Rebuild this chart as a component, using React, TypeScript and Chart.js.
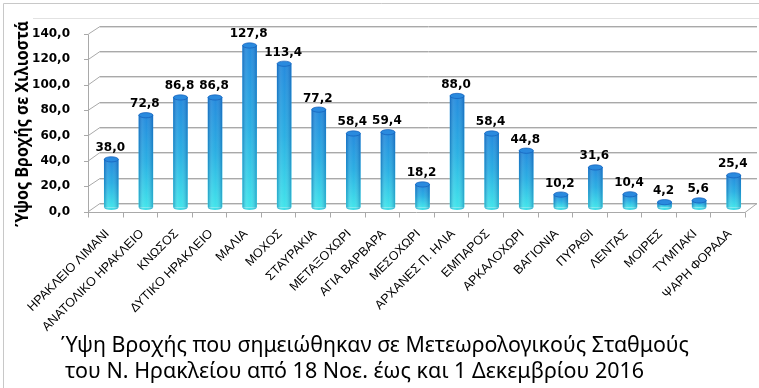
import React, { useEffect, useRef } from 'react';
import { Chart, registerables } from 'chart.js';

Chart.register(...registerables);

const stations = [
  'ΗΡΑΚΛΕΙΟ ΛΙΜΑΝΙ',
  'ΑΝΑΤΟΛΙΚΟ ΗΡΑΚΛΕΙΟ',
  'ΚΝΩΣΟΣ',
  'ΔΥΤΙΚΟ ΗΡΑΚΛΕΙΟ',
  'ΜΑΛΙΑ',
  'ΜΟΧΟΣ',
  'ΣΤΑΥΡΑΚΙΑ',
  'ΜΕΤΑΞΟΧΩΡΙ',
  'ΑΓΙΑ ΒΑΡΒΑΡΑ',
  'ΜΕΣΟΧΩΡΙ',
  'ΑΡΧΑΝΕΣ Π. ΗΛΙΑ',
  'ΕΜΠΑΡΟΣ',
  'ΑΡΚΑΛΟΧΩΡΙ',
  'ΒΑΓΙΟΝΙΑ',
  'ΠΥΡΑΘΙ',
  'ΛΕΝΤΑΣ',
  'ΜΟΙΡΕΣ',
  'ΤΥΜΠΑΚΙ',
  'ΨΑΡΗ ΦΟΡΑΔΑ',
];

const rainfall = [38.0, 72.8, 86.8, 86.8, 127.8, 113.4, 77.2, 58.4, 59.4, 18.2, 88.0, 58.4, 44.8, 10.2, 31.6, 10.4, 4.2, 5.6, 25.4];

const yMin = 0;
const yMax = 140;
const yStep = 20;

const yAxisTitle = 'Ύψος Βροχής σε Χιλιοστά';
const titleLines = [
  'Ύψη Βροχής που σημειώθηκαν σε Μετεωρολογικούς Σταθμούς',
  'του Ν. Ηρακλείου από 18 Νοε. έως και 1 Δεκεμβρίου 2016',
];

const fmt = (v: number) => Number(v).toFixed(1).replace('.', ',');

// 3D depth offsets relative to the bar plane
const FX = -6, FY = 4, BX = 6, BY = -4.5;

function line(ctx: CanvasRenderingContext2D, x1: number, y1: number, x2: number, y2: number) {
  ctx.beginPath();
  ctx.moveTo(x1, y1);
  ctx.lineTo(x2, y2);
  ctx.stroke();
}

function fitText(ctx: CanvasRenderingContext2D, text: string, x: number, y: number, width: number) {
  const w = ctx.measureText(text).width;
  ctx.save();
  ctx.translate(x, y);
  ctx.scale(width / w, 1);
  ctx.fillText(text, 0, 0);
  ctx.restore();
}

const threeDPlugin = {
  id: 'threeD',
  beforeDatasetsDraw(chart: any) {
    const { ctx, chartArea: a, scales } = chart;
    const x = scales.x, y = scales.y;
    ctx.save();
    ctx.lineWidth = 1;
    // outer frames
    ctx.strokeStyle = '#c8c8c8';
    ctx.beginPath();
    ctx.moveTo(3.5, 388);
    ctx.lineTo(3.5, 3.5);
    ctx.lineTo(759, 3.5);
    ctx.stroke();
    ctx.strokeStyle = '#e2e2e2';
    line(ctx, 33, 18.5, 759, 18.5);

    const left = a.left, right = a.right;
    y.ticks.forEach((t: any) => {
      const py = y.getPixelForValue(t.value);
      const by = Math.round(py + BY) + 0.5;
      ctx.strokeStyle = '#dcdcdc';
      line(ctx, left + BX, by + 1, right + BX, by + 1);
      ctx.strokeStyle = '#a9a9a9';
      line(ctx, left + BX, by, right + BX, by);
      line(ctx, left + FX + 0.5, py + FY, left + BX, by);
      line(ctx, left + FX - 4, Math.round(py + FY) + 0.5, left + FX + 0.5, Math.round(py + FY) + 0.5);
    });
    const fTop = Math.round(y.getPixelForValue(yMax) + FY) + 0.5;
    const fBot = Math.round(y.getPixelForValue(0) + FY) + 0.5;
    const bBot = Math.round(y.getPixelForValue(0) + BY) + 0.5;
    ctx.strokeStyle = '#a9a9a9';
    line(ctx, left + FX + 0.5, fTop, left + FX + 0.5, fBot);
    line(ctx, left + FX, fBot, right + FX, fBot);
    line(ctx, right + FX, fBot, right + BX, bBot);
    const half = (x.getPixelForValue(1) - x.getPixelForValue(0)) / 2;
    for (let i = 0; i <= stations.length; i++) {
      const px = Math.round(x.getPixelForValue(0) - half + i * half * 2 + FX) + 0.5;
      line(ctx, px, fBot, px, fBot + 5);
    }
    ctx.restore();
  },
  afterDatasetsDraw(chart: any) {
    const { ctx } = chart;
    const meta = chart.getDatasetMeta(0);
    ctx.save();
    meta.data.forEach((bar: any, i: number) => {
      const { x: bx, y: by, base, width } = bar.getProps(['x', 'y', 'base', 'width'], true);
      const l = bx - width / 2, r = bx + width / 2, ry = 2.6;
      // bottom rounded end
      ctx.beginPath();
      ctx.ellipse(bx, base, width / 2, ry, 0, 0, Math.PI);
      ctx.fillStyle = '#36dbe6';
      ctx.fill();
      // cylinder shading
      const g = ctx.createLinearGradient(l, 0, r, 0);
      g.addColorStop(0, 'rgba(8,50,130,0.35)');
      g.addColorStop(0.3, 'rgba(255,255,255,0.10)');
      g.addColorStop(0.55, 'rgba(255,255,255,0.04)');
      g.addColorStop(1, 'rgba(8,50,130,0.32)');
      ctx.fillStyle = g;
      ctx.beginPath();
      ctx.moveTo(l, by);
      ctx.lineTo(l, base);
      ctx.ellipse(bx, base, width / 2, ry, 0, Math.PI, 0, true);
      ctx.lineTo(r, by);
      ctx.closePath();
      ctx.fill();
      // top cap
      ctx.beginPath();
      ctx.ellipse(bx, by, width / 2, ry, 0, 0, Math.PI * 2);
      ctx.fillStyle = '#2a8ade';
      ctx.fill();
      ctx.strokeStyle = 'rgba(20,95,185,0.9)';
      ctx.lineWidth = 0.8;
      ctx.stroke();
      // value label
      ctx.fillStyle = '#000';
      ctx.font = 'bold 12px "DejaVu Sans"';
      ctx.textAlign = 'center';
      ctx.textBaseline = 'alphabetic';
      ctx.fillText(fmt(rainfall[i]), bx - 1, by - 8);
    });
    ctx.restore();
  },
  afterDraw(chart: any) {
    const { ctx } = chart;
    ctx.save();
    ctx.fillStyle = '#000';
    // y axis title
    ctx.font = 'bold 17px "Noto Sans"';
    ctx.textAlign = 'left';
    ctx.textBaseline = 'middle';
    ctx.save();
    ctx.translate(23, 123);
    ctx.rotate(-Math.PI / 2);
    fitText(ctx, yAxisTitle, -104, 0, 206);
    ctx.restore();
    // bottom title
    ctx.font = '22px "Noto Sans"';
    ctx.textBaseline = 'alphabetic';
    fitText(ctx, titleLines[0], 61, 352, 628);
    fitText(ctx, titleLines[1], 65, 378, 579);
    ctx.restore();
  },
};

export default function App() {
  const ref = useRef<HTMLCanvasElement | null>(null);

  useEffect(() => {
    document.body.style.margin = '0';
    const canvas = ref.current;
    if (!canvas) return;
    const chart = new Chart(canvas, {
      type: 'bar',
      data: {
        labels: stations,
        datasets: [
          {
            data: rainfall,
            barThickness: 14,
            borderWidth: 0,
            backgroundColor: (c: any) => {
              const ch = c.chart;
              if (!ch.chartArea || c.raw == null) return '#2a86db';
              const yS = ch.scales.y;
              const top = yS.getPixelForValue(c.raw);
              const base = yS.getPixelForValue(0);
              const g = ch.ctx.createLinearGradient(0, top, 0, base + 0.01);
              g.addColorStop(0, '#1d86dc');
              g.addColorStop(0.5, '#22ace2');
              g.addColorStop(1, '#3ae3ea');
              return g;
            },
          },
        ],
      },
      options: {
        animation: false,
        responsive: false,
        maintainAspectRatio: false,
        layout: { padding: { top: 30, right: 8, left: 0, bottom: 0 } },
        plugins: { legend: { display: false }, tooltip: { enabled: false }, title: { display: false } },
        scales: {
          x: {
            grid: { display: false },
            border: { display: false },
            ticks: {
              maxRotation: 45,
              minRotation: 45,
              autoSkip: false,
              color: '#000',
              padding: 11,
              labelOffset: -4,
              font: { family: '"Liberation Sans Narrow", "Liberation Sans", sans-serif', size: 12.5 },
            },
            afterFit: (s: any) => {
              s.height = 180.5;
            },
          },
          y: {
            min: yMin,
            max: yMax,
            grid: { display: false },
            border: { display: false },
            ticks: {
              stepSize: yStep,
              color: '#000',
              padding: 16,
              labelOffset: 4,
              callback: (v: any) => fmt(v),
              font: { family: '"DejaVu Sans"', size: 12, weight: 'bold' },
            },
            afterFit: (s: any) => {
              s.width = 94;
            },
          },
        },
      },
      plugins: [threeDPlugin],
    } as any);
    return () => chart.destroy();
  }, []);

  return <canvas ref={ref} width={759} height={388} style={{ display: 'block', width: 759, height: 388 }} />;
}
